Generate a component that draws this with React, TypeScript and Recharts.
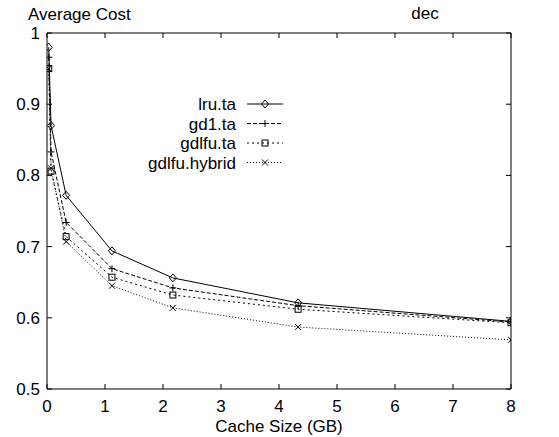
import React from 'react';
import { LineChart, Line, XAxis, YAxis } from 'recharts';

const cacheSizes = [0.03, 0.07, 0.33, 1.12, 2.17, 4.33, 8];
const lruTa = [0.98, 0.87, 0.772, 0.694, 0.656, 0.621, 0.595];
const gd1Ta = [0.966, 0.833, 0.734, 0.669, 0.642, 0.617, 0.594];
const gdlfuTa = [0.95, 0.806, 0.714, 0.657, 0.632, 0.612, 0.593];
const gdlfuHybrid = [0.95, 0.81, 0.707, 0.645, 0.614, 0.587, 0.569];

const xTicks = [0, 1, 2, 3, 4, 5, 6, 7, 8];
const yTicks = [0.5, 0.6, 0.7, 0.8, 0.9, 1];
const seriesNames = ['lru.ta', 'gd1.ta', 'gdlfu.ta', 'gdlfu.hybrid'];

const data = cacheSizes.map((x, i) => ({
  x,
  lru: lruTa[i],
  gd1: gd1Ta[i],
  gdlfu: gdlfuTa[i],
  hybrid: gdlfuHybrid[i],
}));

const FONT = '"Liberation Sans", Arial, Helvetica, sans-serif';

type Kind = 'diamond' | 'plus' | 'square' | 'cross';

const Marker = ({ cx, cy, kind }: { cx: number; cy: number; kind: Kind }) => {
  if (cx == null || cy == null) return null;
  const s = 3.5;
  if (kind === 'diamond')
    return (
      <path
        d={`M${cx},${cy - s - 0.5} L${cx + s},${cy} L${cx},${cy + s + 0.5} L${cx - s},${cy} Z`}
        fill="none"
        stroke="#000"
        strokeWidth={1}
      />
    );
  if (kind === 'plus')
    return (
      <path d={`M${cx - s},${cy} L${cx + s},${cy} M${cx},${cy - s} L${cx},${cy + s}`} stroke="#000" strokeWidth={1} />
    );
  if (kind === 'square')
    return <rect x={cx - 3} y={cy - 3} width={6} height={6} fill="none" stroke="#000" strokeWidth={1} />;
  return (
    <path d={`M${cx - 3},${cy - 3} L${cx + 3},${cy + 3} M${cx - 3},${cy + 3} L${cx + 3},${cy - 3}`} stroke="#000" strokeWidth={1} />
  );
};

const mkDot = (kind: Kind) => (props: any) => <Marker key={`${kind}-${props.index}`} cx={props.cx} cy={props.cy} kind={kind} />;

const EmptyTick = () => <g />;

const seriesDefs: { key: string; kind: Kind; dash?: string }[] = [
  { key: 'lru', kind: 'diamond' },
  { key: 'gd1', kind: 'plus', dash: '4 2' },
  { key: 'gdlfu', kind: 'square', dash: '2 3' },
  { key: 'hybrid', kind: 'cross', dash: '1 2' },
];

export default function App() {
  const tickStyle = { fontFamily: FONT, fontSize: 17, fill: '#000' };
  return (
    <div style={{ position: 'absolute', left: 0, top: 0, width: 559, height: 437, background: '#fff' }}>
      <LineChart width={559} height={437} data={data} margin={{ top: 33, right: 48, bottom: 0, left: 0 }}>
        <XAxis
          dataKey="x"
          type="number"
          domain={[0, 8]}
          ticks={xTicks}
          allowDataOverflow
          height={48}
          tickSize={-5}
          tickMargin={16}
          tick={tickStyle}
          stroke="#000"
          axisLine={{ stroke: '#000' }}
          tickLine={{ stroke: '#000' }}
          label={{ value: 'Cache Size (GB)', position: 'insideBottom', offset: 5, style: { fontFamily: FONT, fontSize: 17, fill: '#000' } }}
        />
        <XAxis
          xAxisId="top"
          dataKey="x"
          type="number"
          orientation="top"
          mirror
          domain={[0, 8]}
          ticks={xTicks}
          interval={0}
          allowDataOverflow
          height={20}
          tickSize={5}
          tick={EmptyTick}
          stroke="#000"
          axisLine={{ stroke: '#000' }}
          tickLine={{ stroke: '#000' }}
        />
        <YAxis
          type="number"
          domain={[0.5, 1]}
          ticks={yTicks}
          allowDataOverflow
          width={47}
          tickSize={-5}
          tickMargin={12}
          tick={tickStyle}
          tickFormatter={(v: number) => String(Number(v.toFixed(1)))}
          stroke="#000"
          axisLine={{ stroke: '#000' }}
          tickLine={{ stroke: '#000' }}
        />
        <YAxis
          yAxisId="right"
          type="number"
          orientation="right"
          mirror
          domain={[0.5, 1]}
          ticks={yTicks}
          interval={0}
          allowDataOverflow
          width={20}
          tickSize={5}
          tick={EmptyTick}
          stroke="#000"
          axisLine={{ stroke: '#000' }}
          tickLine={{ stroke: '#000' }}
        />
        <Line
          xAxisId="top"
          yAxisId="right"
          dataKey="lru"
          stroke="none"
          dot={false}
          activeDot={false}
          legendType="none"
          isAnimationActive={false}
        />
        {seriesDefs.map((s) => (
          <Line
            key={s.key}
            dataKey={s.key}
            type="linear"
            stroke="#000"
            strokeWidth={1}
            strokeDasharray={s.dash}
            dot={mkDot(s.kind)}
            activeDot={false}
            isAnimationActive={false}
          />
        ))}
      </LineChart>
      <svg width={559} height={437} style={{ position: 'absolute', left: 0, top: 0, pointerEvents: 'none' }}>
        <text x={28} y={20} fontFamily={FONT} fontSize={17} fill="#000">
          Average Cost
        </text>
        <text x={425} y={19} textAnchor="middle" fontFamily={FONT} fontSize={17} fill="#000">
          dec
        </text>
        {seriesDefs.map((s, i) => {
          const y = 104 + i * 19.5;
          return (
            <g key={s.key}>
              <text x={236} y={y + 6} textAnchor="end" fontFamily={FONT} fontSize={17} fill="#000">
                {seriesNames[i]}
              </text>
              <line x1={247} x2={283} y1={y} y2={y} stroke="#000" strokeWidth={1} strokeDasharray={s.dash} />
              <Marker cx={265} cy={y} kind={s.kind} />
            </g>
          );
        })}
      </svg>
    </div>
  );
}
